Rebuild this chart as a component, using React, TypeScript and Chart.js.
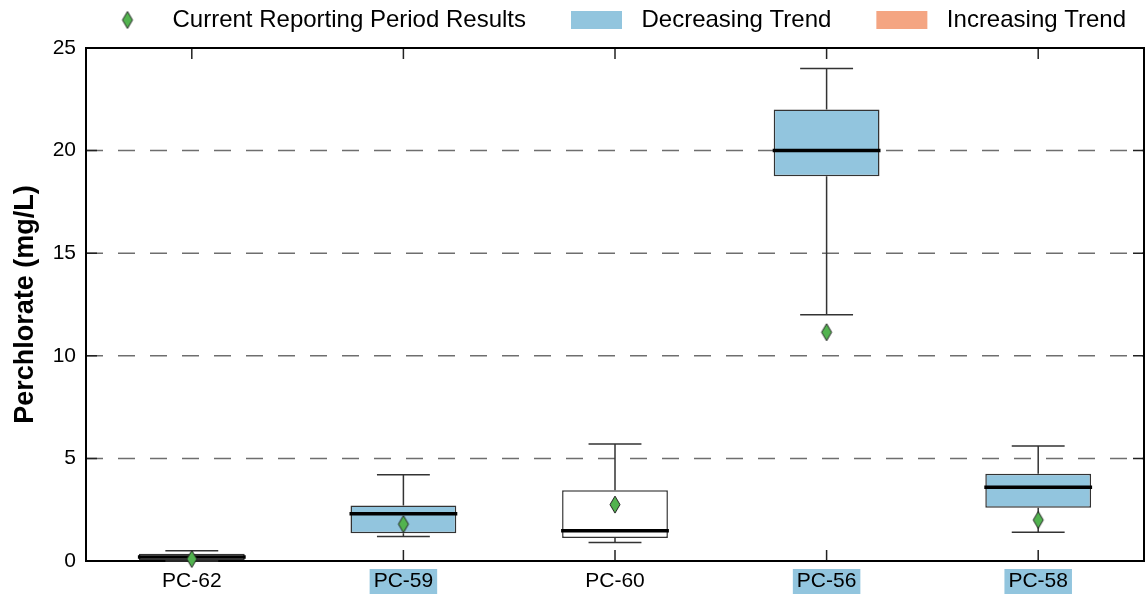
import React, { useEffect, useRef } from 'react';
import { Chart, registerables } from 'chart.js';

Chart.register(...registerables);

// ---------------- data ----------------
const categories = ['PC-62', 'PC-59', 'PC-60', 'PC-56', 'PC-58'];
const whiskerLow = [0, 1.2, 0.9, 12, 1.4];
const quartile1 = [0.05, 1.35, 1.12, 18.75, 2.6];
const medians = [0.2, 2.3, 1.47, 20, 3.6];
const quartile3 = [0.35, 2.7, 3.45, 22, 4.25];
const whiskerHigh = [0.5, 4.2, 5.7, 24, 5.6];
const currentResults = [0.1, 1.8, 2.75, 11.15, 2.0];
const trends = ['none', 'decreasing', 'none', 'decreasing', 'decreasing'];
const yTicks = [0, 5, 10, 15, 20, 25];
const legendLabels = ['Current Reporting Period Results', 'Decreasing Trend', 'Increasing Trend'];
const yTitle = 'Perchlorate (mg/L)';

// ---------------- styles ----------------
const FONT = '"Liberation Sans", Arial, Helvetica, sans-serif';
const BLUE = '#92c5de';
const ORANGE = '#f4a582';
const GREEN = '#52b34f';
const EDGE = '#333333';

let diamondImg: HTMLCanvasElement | null = null;

function makeDiamond(): HTMLCanvasElement {
  const c = document.createElement('canvas');
  c.width = 14;
  c.height = 21;
  const g = c.getContext('2d')!;
  g.beginPath();
  g.moveTo(7, 2);
  g.lineTo(12, 10.5);
  g.lineTo(7, 19);
  g.lineTo(2, 10.5);
  g.closePath();
  g.fillStyle = GREEN;
  g.fill();
  g.lineWidth = 1;
  g.strokeStyle = '#222';
  g.stroke();
  return c;
}

const BOX_INDEX = 1;

const boxPlugin = {
  id: 'boxExtras',
  afterDatasetDraw(chart: any, args: any) {
    if (args.index !== BOX_INDEX) return;
    const { ctx } = chart;
    const xs = chart.scales.x;
    const ys = chart.scales.y;
    const catW = xs.getPixelForValue(1) - xs.getPixelForValue(0);
    const meta = chart.getDatasetMeta(BOX_INDEX);
    ctx.save();
    categories.forEach((_, i) => {
      const cx = xs.getPixelForValue(i);
      const capHalf = catW * 0.125;
      const yLo = ys.getPixelForValue(whiskerLow[i]);
      const yQ1 = ys.getPixelForValue(quartile1[i]);
      const yQ3 = ys.getPixelForValue(quartile3[i]);
      const yHi = ys.getPixelForValue(whiskerHigh[i]);
      const yMed = ys.getPixelForValue(medians[i]);
      ctx.strokeStyle = EDGE;
      ctx.lineWidth = 1.5;
      ctx.beginPath();
      ctx.moveTo(cx, yQ1);
      ctx.lineTo(cx, yLo);
      ctx.moveTo(cx, yQ3);
      ctx.lineTo(cx, yHi);
      ctx.moveTo(cx - capHalf, yLo);
      ctx.lineTo(cx + capHalf, yLo);
      ctx.moveTo(cx - capHalf, yHi);
      ctx.lineTo(cx + capHalf, yHi);
      ctx.stroke();
      const el = meta.data[i];
      const half = el && el.width ? el.width / 2 : catW * 0.25;
      ctx.strokeStyle = '#000';
      ctx.lineWidth = 3.5;
      ctx.beginPath();
      ctx.moveTo(cx - half - 1, yMed);
      ctx.lineTo(cx + half + 1, yMed);
      ctx.stroke();
    });
    ctx.restore();
  },
};

const framePlugin = {
  id: 'frameGrid',
  beforeDraw(chart: any) {
    const { ctx, chartArea } = chart;
    const xs = chart.scales.x;
    ctx.save();
    ctx.font = `21px ${FONT}`;
    categories.forEach((label, i) => {
      const t = trends[i];
      if (t === 'none') return;
      const w = ctx.measureText(label).width;
      const cx = xs.getPixelForValue(i);
      ctx.fillStyle = t === 'decreasing' ? BLUE : ORANGE;
      ctx.fillRect(cx - w / 2 - 4, chartArea.bottom + 8, w + 8, chart.height - chartArea.bottom - 8);
    });
    ctx.restore();
  },
  beforeDatasetsDraw(chart: any) {
    const { ctx, chartArea } = chart;
    const { left, right, top, bottom } = chartArea;
    const xs = chart.scales.x;
    const ys = chart.scales.y;
    ctx.save();
    ctx.strokeStyle = '#6e6e6e';
    ctx.lineWidth = 1.5;
    ctx.setLineDash([17, 15]);
    yTicks.forEach((v) => {
      if (v === yTicks[0] || v === yTicks[yTicks.length - 1]) return;
      const y = ys.getPixelForValue(v);
      ctx.beginPath();
      ctx.moveTo(left, y);
      ctx.lineTo(right, y);
      ctx.stroke();
    });
    ctx.setLineDash([]);
    ctx.strokeStyle = '#222';
    ctx.lineWidth = 1.5;
    const tl = 11;
    ctx.beginPath();
    yTicks.forEach((v) => {
      const y = ys.getPixelForValue(v);
      ctx.moveTo(left, y);
      ctx.lineTo(left + tl, y);
      ctx.moveTo(right, y);
      ctx.lineTo(right - tl, y);
    });
    categories.forEach((_, i) => {
      const x = xs.getPixelForValue(i);
      ctx.moveTo(x, bottom);
      ctx.lineTo(x, bottom - tl);
      ctx.moveTo(x, top);
      ctx.lineTo(x, top + tl);
    });
    ctx.stroke();
    ctx.strokeStyle = '#000';
    ctx.lineWidth = 2;
    ctx.strokeRect(left, top, right - left, bottom - top);
    ctx.restore();
  },
  afterDraw(chart: any) {
    const { ctx } = chart;
    ctx.save();
    ctx.font = `24px ${FONT}`;
    ctx.textBaseline = 'middle';
    ctx.textAlign = 'left';
    const cy = 20;
    const handleW = 51;
    const handleH = 18;
    const handleGap = 19.5;
    const itemGap = 45;
    let x = 102;
    legendLabels.forEach((label, i) => {
      if (i === 0) {
        if (diamondImg) ctx.drawImage(diamondImg, x + handleW / 2 - diamondImg.width / 2, cy - diamondImg.height / 2);
      } else {
        ctx.fillStyle = i === 1 ? BLUE : ORANGE;
        ctx.fillRect(x, cy - handleH / 2, handleW, handleH);
      }
      const tx = x + handleW + handleGap;
      ctx.fillStyle = '#000';
      ctx.fillText(label, tx, cy);
      x = tx + ctx.measureText(label).width + itemGap;
    });
    ctx.restore();
  },
};

export default function App() {
  const ref = useRef<HTMLCanvasElement | null>(null);
  useEffect(() => {
    if (!ref.current) return;
    diamondImg = makeDiamond();
    const chart = new Chart(ref.current, {
      type: 'bar',
      data: {
        labels: categories,
        datasets: [
          {
            type: 'line',
            label: legendLabels[0],
            data: currentResults,
            showLine: false,
            pointStyle: diamondImg as any,
            pointRadius: 9,
            pointHoverRadius: 9,
            clip: false as any,
            order: 0,
          } as any,
          {
            type: 'bar',
            label: 'box',
            data: categories.map((_, i) => [quartile1[i], quartile3[i]]),
            backgroundColor: trends.map((t) => (t === 'decreasing' ? BLUE : t === 'increasing' ? ORANGE : '#ffffff')),
            borderColor: EDGE,
            borderWidth: 1.5,
            borderSkipped: false,
            barPercentage: 0.5,
            categoryPercentage: 1,
            grouped: false,
            order: 1,
          } as any,
        ],
      },
      options: {
        animation: false,
        responsive: false,
        maintainAspectRatio: false,
        layout: { autoPadding: false, padding: { top: 48, right: 2, left: 0, bottom: 0 } },
        plugins: {
          legend: { display: false },
          tooltip: { enabled: false },
        },
        scales: {
          x: {
            type: 'category',
            offset: true,
            grid: { display: false, drawTicks: false },
            border: { display: false },
            ticks: { font: { family: FONT, size: 21 }, color: '#000', padding: 8 },
            afterFit: (s: any) => {
              s.height = 33;
              s.paddingLeft = 0;
              s.paddingRight = 0;
            },
          },
          y: {
            min: 0,
            max: 25,
            grid: { display: false, drawTicks: false },
            border: { display: false },
            afterBuildTicks: (s: any) => {
              s.ticks = yTicks.map((v) => ({ value: v }));
            },
            ticks: { font: { family: FONT, size: 21 }, color: '#000', padding: 10 },
            title: {
              display: true,
              text: yTitle,
              font: { family: FONT, size: 27, weight: 'bold' },
              color: '#000',
              padding: { top: 9, bottom: 0 },
            },
            afterFit: (s: any) => {
              s.width = 86;
            },
          },
        },
      },
      plugins: [boxPlugin, framePlugin],
    });
    return () => chart.destroy();
  }, []);
  return (
    <div style={{ position: 'fixed', left: 0, top: 0, width: 1146, height: 594, background: '#fff' }}>
      <canvas ref={ref} width={1146} height={594} style={{ display: 'block', width: 1146, height: 594 }} />
    </div>
  );
}
